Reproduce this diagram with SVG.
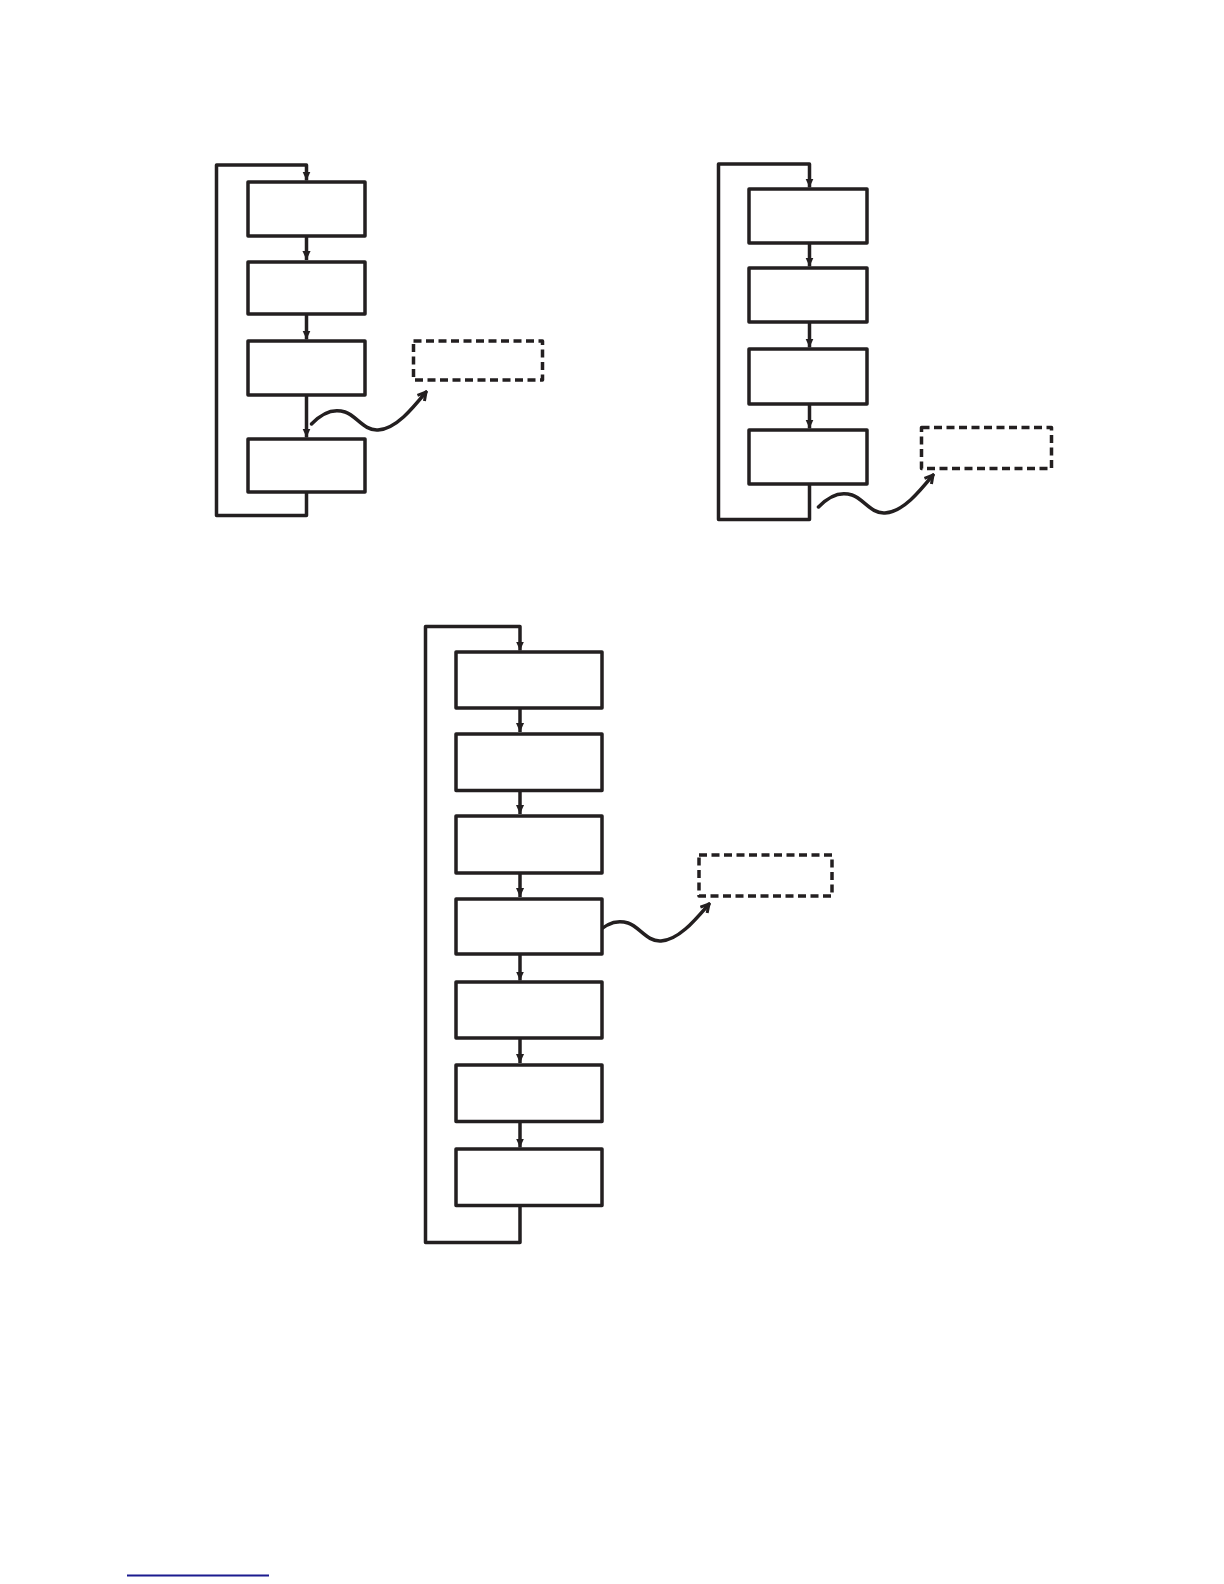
<svg xmlns="http://www.w3.org/2000/svg" width="1224" height="1584" viewBox="0 0 1224 1584">
<style>
.box{fill:#ffffff;stroke:#231f20;stroke-width:3.5;stroke-linejoin:round}
.dash{fill:none;stroke:#231f20;stroke-width:3.5;stroke-dasharray:8 4.5;stroke-linejoin:round}
.c{fill:none;stroke:#231f20;stroke-width:3.5;stroke-linejoin:round}
.w{fill:none;stroke:#231f20;stroke-width:3.5;stroke-linecap:round}
</style>
<defs>
<marker id="ah" viewBox="0 0 10 10" refX="10" refY="5" markerWidth="9" markerHeight="9" markerUnits="userSpaceOnUse" orient="auto">
<path d="M0,0.5 L10,5 L0,9.5 z" fill="#231f20"/>
</marker>
<marker id="wh" viewBox="0 0 12 12" refX="10" refY="6" markerWidth="12" markerHeight="12" markerUnits="userSpaceOnUse" orient="auto">
<path d="M2,1.5 L10,6 L2,10.5" fill="none" stroke="#231f20" stroke-width="3" stroke-linejoin="miter"/>
</marker>
</defs>
<rect width="1224" height="1584" fill="#ffffff"/>

<g id="connectors">
<path class="c" d="M306.5,492 V515.5 H216.5 V165 H306.5 V180.5" marker-end="url(#ah)"/>
<path class="c" d="M306.5,236 V260" marker-end="url(#ah)"/>
<path class="c" d="M306.5,314 V339.5" marker-end="url(#ah)"/>
<path class="c" d="M306.5,395 V437.5" marker-end="url(#ah)"/>
<path class="w" d="M311.5,424 C321,414 333,408 345,412 C357,416 364,431 378,430 C396,429 413,408 426,392" marker-end="url(#wh)"/>

<path class="c" d="M809.5,484 V519.5 H718.5 V164 H809.5 V187.5" marker-end="url(#ah)"/>
<path class="c" d="M809.5,243 V266.5" marker-end="url(#ah)"/>
<path class="c" d="M809.5,322 V347.5" marker-end="url(#ah)"/>
<path class="c" d="M809.5,404 V428.5" marker-end="url(#ah)"/>
<path class="w" d="M818.5,507 C828,497 840,491 852,495 C864,499 871,514 885,513 C903,512 920,491 933,475" marker-end="url(#wh)"/>

<path class="c" d="M520,1205.5 V1242.5 H425.5 V626.5 H520 V650.5" marker-end="url(#ah)"/>
<path class="c" d="M520,708 V732" marker-end="url(#ah)"/>
<path class="c" d="M520,790.5 V814" marker-end="url(#ah)"/>
<path class="c" d="M520,873 V897" marker-end="url(#ah)"/>
<path class="c" d="M520,954 V980.5" marker-end="url(#ah)"/>
<path class="c" d="M520,1038 V1063" marker-end="url(#ah)"/>
<path class="c" d="M520,1121.5 V1147.5" marker-end="url(#ah)"/>
<path class="w" d="M594.5,935 C604,925 616,919 628,923 C640,927 647,942 661,941 C679,940 696,919 709,904" marker-end="url(#wh)"/>
</g>

<g id="d1-box1"><rect class="box" x="248" y="182" width="117" height="54"/></g>
<g id="d1-box2"><rect class="box" x="248" y="262" width="117" height="52"/></g>
<g id="d1-box3"><rect class="box" x="248" y="341" width="117" height="54"/></g>
<g id="d1-box4"><rect class="box" x="248" y="439" width="117" height="53"/></g>
<g id="d1-dashed"><rect class="dash" x="413.5" y="341" width="129" height="39"/></g>

<g id="d2-box1"><rect class="box" x="749" y="189" width="118" height="54"/></g>
<g id="d2-box2"><rect class="box" x="749" y="268" width="118" height="54"/></g>
<g id="d2-box3"><rect class="box" x="749" y="349" width="118" height="55"/></g>
<g id="d2-box4"><rect class="box" x="749" y="430" width="118" height="54"/></g>
<g id="d2-dashed"><rect class="dash" x="921.5" y="427.5" width="130" height="41"/></g>

<g id="d3-box1"><rect class="box" x="456" y="652" width="146" height="56"/></g>
<g id="d3-box2"><rect class="box" x="456" y="734" width="146" height="56.5"/></g>
<g id="d3-box3"><rect class="box" x="456" y="816" width="146" height="57"/></g>
<g id="d3-box4"><rect class="box" x="456" y="899" width="146" height="55"/></g>
<g id="d3-box5"><rect class="box" x="456" y="982" width="146" height="56"/></g>
<g id="d3-box6"><rect class="box" x="456" y="1065" width="146" height="56.5"/></g>
<g id="d3-box7"><rect class="box" x="456" y="1149" width="146" height="56.5"/></g>
<g id="d3-dashed"><rect class="dash" x="699" y="855" width="133" height="41"/></g>

<line x1="127" y1="1575.5" x2="269" y2="1575.5" stroke="#1b1b8f" stroke-width="2"/>
</svg>
